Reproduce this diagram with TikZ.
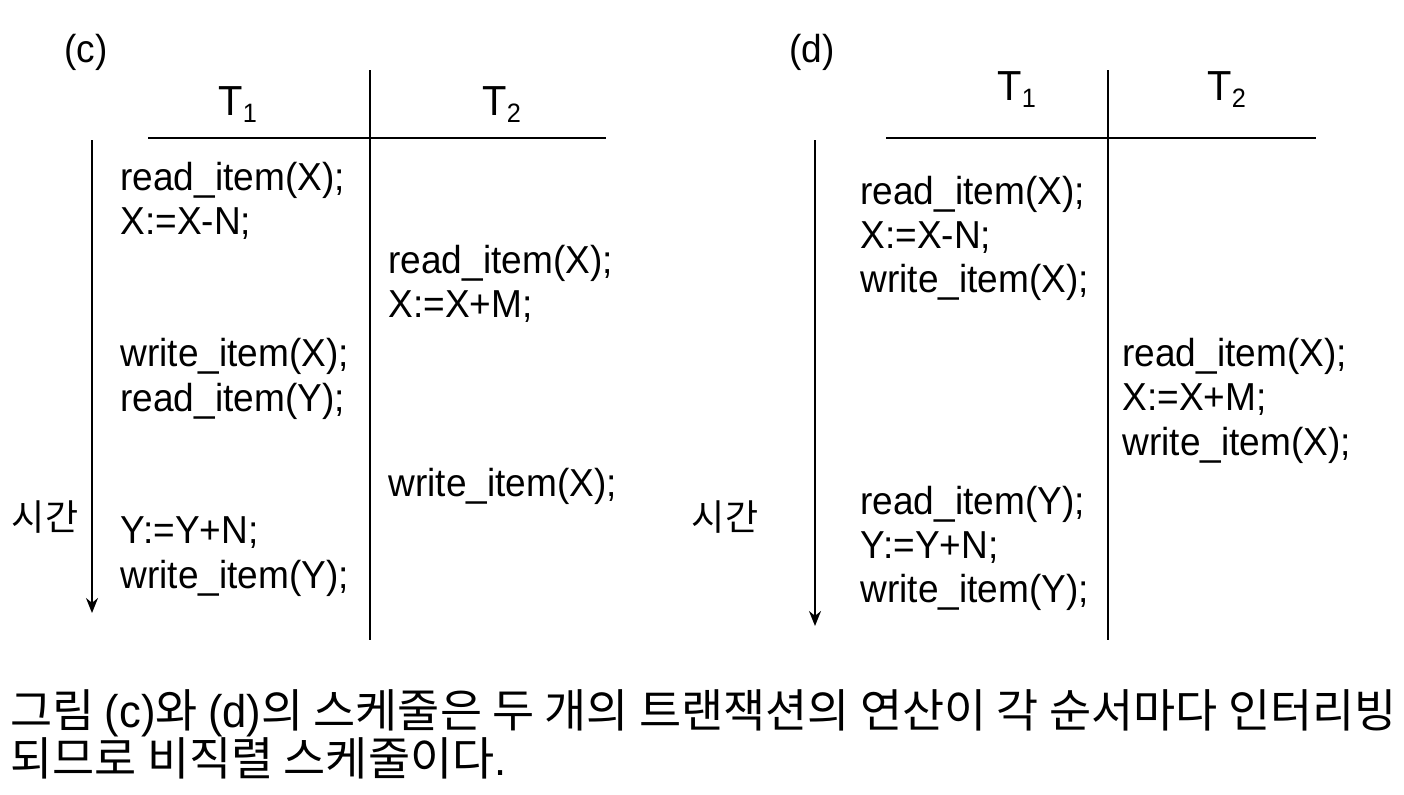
\documentclass[tikz,border=0pt]{standalone}
\usepackage{fontspec}
\usetikzlibrary{arrows.meta}
\setmainfont{Liberation Sans}[FakeStretch=0.95]
\newfontfamily\krfont{Noto Sans CJK KR}
\newcommand\hg[1]{{\krfont #1}}
\newcommand\tsub[1]{T\raisebox{-3.5pt}{\fontsize{13.3}{14}\selectfont #1}}
\begin{document}
\begin{tikzpicture}[x=0.5pt,y=-0.5pt,
  op/.style={anchor=base west, inner sep=0pt, font=\fontsize{19.5}{20}\selectfont},
  hd/.style={anchor=base west, inner sep=0pt, font=\fontsize{21}{22}\selectfont},
  kr/.style={inner sep=0pt, font=\fontsize{18}{20}\selectfont\krfont},
  captext/.style={anchor=base west, inner sep=0pt, font=\fontsize{22.9}{24}\selectfont},
  rule/.style={line width=1pt},
  timeline/.style={line width=1pt, -{Stealth[length=7.5pt,width=6pt]}}]
\useasboundingbox (0,0) rectangle (1404,794);
\node[op] (clab) at (64,62) {(c)};
\node[hd] (ct1) at (218,115) {\tsub{1}};
\node[hd] (ct2) at (482,115) {\tsub{2}};
\coordinate (chl) at (148,138);
\coordinate (chr) at (606,138);
\coordinate (cvt) at (370,70);
\coordinate (cvb) at (370,640);
\draw[rule] (chl) -- (chr);
\draw[rule] (cvt) -- (cvb);
\coordinate (cat) at (92,140);
\coordinate (cab) at (92,613);
\draw[timeline] (cat) -- (cab);
\node[kr, anchor=base] (ctime) at (45,530) {시간};
\node[op] (c1) at (120,190) {read\_item(X);};
\node[op] (c2) at (120,234) {X:=X-N;};
\node[op] (c3) at (388,273) {read\_item(X);};
\node[op] (c4) at (388,317) {X:=X+M;};
\node[op] (c5) at (120,366) {write\_item(X);};
\node[op] (c6) at (120,411) {read\_item(Y);};
\node[op] (c7) at (388,496) {write\_item(X);};
\node[op] (c8) at (120,543) {Y:=Y+N;};
\node[op] (c9) at (120,588) {write\_item(Y);};
\node[op] (dlab) at (789,62) {(d)};
\node[hd] (dt1) at (997,100) {\tsub{1}};
\node[hd] (dt2) at (1207,100) {\tsub{2}};
\coordinate (dhl) at (886,138);
\coordinate (dhr) at (1316,138);
\coordinate (dvt) at (1108,70);
\coordinate (dvb) at (1108,640);
\draw[rule] (dhl) -- (dhr);
\draw[rule] (dvt) -- (dvb);
\coordinate (dat) at (815,140);
\coordinate (dab) at (815,626);
\draw[timeline] (dat) -- (dab);
\node[kr, anchor=base] (dtime) at (725,530) {시간};
\node[op] (d1) at (860,204) {read\_item(X);};
\node[op] (d2) at (860,248) {X:=X-N;};
\node[op] (d3) at (860,292) {write\_item(X);};
\node[op] (d4) at (1122,366) {read\_item(X);};
\node[op] (d5) at (1122,410) {X:=X+M;};
\node[op] (d6) at (1122,455) {write\_item(X);};
\node[op] (d7) at (860,514) {read\_item(Y);};
\node[op] (d8) at (860,558) {Y:=Y+N;};
\node[op] (d9) at (860,602) {write\_item(Y);};
\node[captext] (cap1) at (10,727) {\hg{그림 }(c)\hg{와 }(d)\hg{의 스케줄은 두 개의 트랜잭션의 연산이 각 순서마다 인터리빙}};
\node[captext] (cap2) at (10,775) {\hg{되므로 비직렬 스케줄이다}.};
\end{tikzpicture}
\end{document}
